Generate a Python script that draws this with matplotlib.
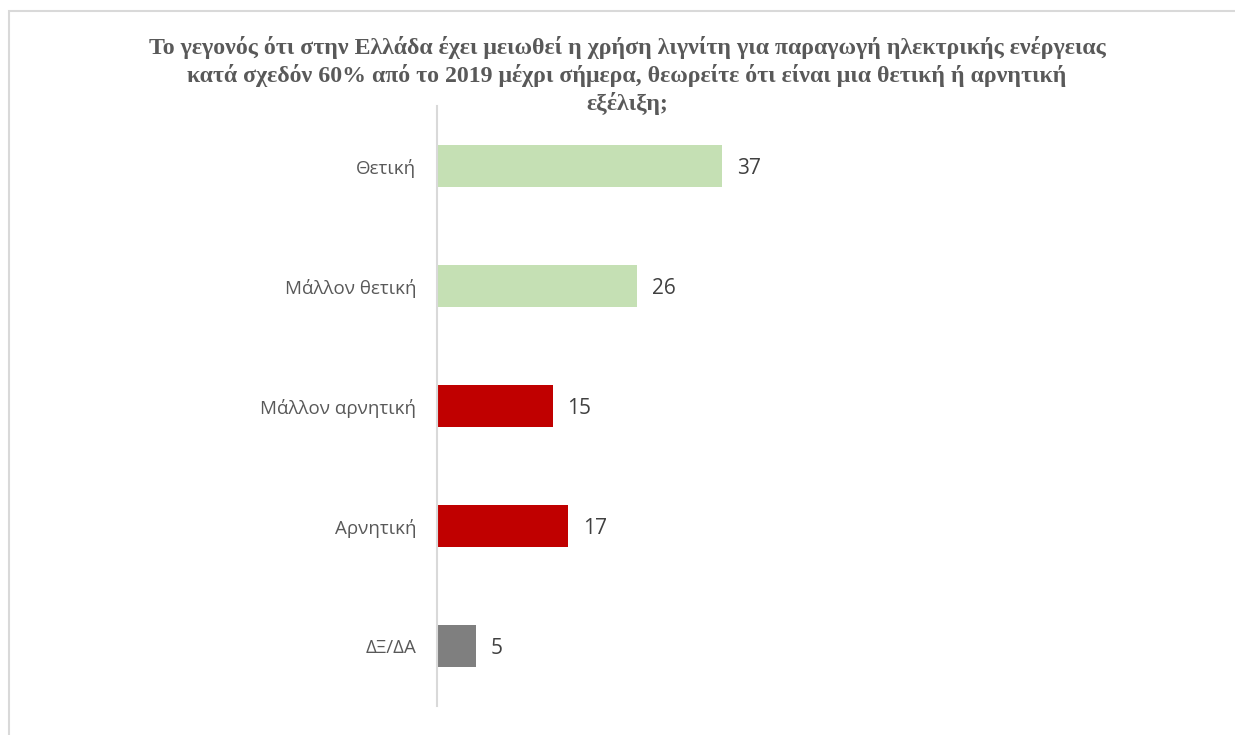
import matplotlib
matplotlib.use("Agg")
import matplotlib.pyplot as plt
import matplotlib.patches as patches

categories = ["Θετική", "Μάλλον θετική", "Μάλλον αρνητική", "Αρνητική", "ΔΞ/ΔΑ"]
values = [37, 26, 15, 17, 5]
colors = ["#c5e0b4", "#c5e0b4", "#c00000", "#c00000", "#7f7f7f"]

title = ("Το γεγονός ότι στην Ελλάδα έχει μειωθεί η χρήση λιγνίτη για παραγωγή ηλεκτρικής ενέργειας\n"
         "κατά σχεδόν 60% από το 2019 μέχρι σήμερα, θεωρείτε ότι είναι μια θετική ή αρνητική\n"
         "εξέλιξη;")

W, H = 1235, 735
fig = plt.figure(figsize=(W / 100, H / 100), dpi=100)

# frame around the chart (only top and left edges fall inside the canvas)
frame = patches.Rectangle((9 / W, -0.5), 2, 1.5 - 11 / H, transform=fig.transFigure,
                          fill=False, edgecolor="#d9d9d9", linewidth=1.5)
fig.add_artist(frame)

# plot area: x from 437 px, y from 106 px to 706 px
px_per_unit = 7.7
xmax = 100
left, right = 437, 437 + xmax * px_per_unit
top, bottom = 106, 706
ax = fig.add_axes([left / W, 1 - bottom / H, (right - left) / W, (bottom - top) / H])

y = range(len(categories))
ax.barh(y, values, height=0.35, color=colors)
ax.set_xlim(0, xmax)
ax.set_ylim(len(categories) - 0.5, -0.5)

for spine in ["top", "right", "bottom"]:
    ax.spines[spine].set_visible(False)
ax.spines["left"].set_color("#d9d9d9")
ax.spines["left"].set_linewidth(1.5)
ax.set_xticks([])
ax.set_yticks(list(y))
ax.set_yticklabels(categories, fontsize=13.5, color="#595959", family="Open Sans")
ax.tick_params(axis="y", length=0, pad=15)

for i, v in enumerate(values):
    ax.text(v + 15 / px_per_unit, i, str(v), va="center_baseline", ha="left",
            fontsize=15, color="#404040", family="Open Sans")

fig.text(627 / W, 1 - 36 / H, title, ha="center", va="top", fontsize=17.2,
         fontweight="bold", color="#595959", family="Liberation Serif",
         linespacing=1.27)

fig.savefig("out.png", dpi=100, facecolor="white")
